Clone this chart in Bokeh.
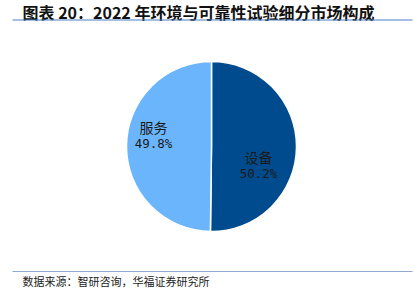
import math
from bokeh.plotting import figure
from bokeh.models import ColumnDataSource, Range1d
from bokeh.core.properties import value
from bokeh.embed import file_html
from bokeh.resources import INLINE

# ---- data ----
categories = ["设备", "服务"]
shares = [50.2, 49.8]
colors = ["#004B8D", "#6BB5FD"]
title_text = "图表 20：2022 年环境与可靠性试验细分市场构成"
source_text = "数据来源：智研咨询，华福证券研究所"

W, H = 414, 295
p = figure(width=W, height=H, output_backend="svg", toolbar_location=None,
           x_range=Range1d(0, W), y_range=Range1d(0, H), min_border=0)
p.axis.visible = False
p.grid.visible = False
p.outline_line_color = None
p.background_fill_color = "white"
p.border_fill_color = "white"

cx, cy, r = 211, 295 - 146, 85

total = sum(shares)
starts, ends = [], []
a = math.pi / 2
for s in shares:
    sweep = 2 * math.pi * s / total
    starts.append(a)
    ends.append(a - sweep)
    a -= sweep

src = ColumnDataSource(dict(start=starts, end=ends, color=colors))
p.wedge(x=cx, y=cy, radius=r, start_angle="start", end_angle="end",
        direction="clock", fill_color="color", line_color="white",
        line_width=1.5, source=src)

# labels (layout offsets relative to centre)
label_offsets = [(47, -19), (-58, 11)]
lx = [cx + dx for dx, dy in label_offsets]
ly = [cy + dy for dx, dy in label_offsets]
pct = [f"{s:.1f}%" for s in shares]
p.text(x=lx, y=[y + 9 for y in ly], text=categories, text_align="center",
       text_baseline="middle", text_font=value("Noto Sans CJK SC"),
       text_font_size="14px", text_color="#1a1a1a")
p.text(x=lx, y=[y - 8 for y in ly], text=pct, text_align="center",
       text_baseline="middle", text_font=value("DejaVu Sans Mono"),
       text_font_size="12.5px", text_color="#1a1a1a")

# title and rules
p.text(x=[22], y=[H - 11], text=[title_text], text_align="left",
       text_baseline="middle", text_font=value("Noto Sans CJK SC"),
       text_font_size="16px", text_font_style="bold", text_color="#111111")
p.segment(x0=[12], y0=[H - 19.5], x1=[412], y1=[H - 19.5],
          line_color="#4F7FC0", line_width=1.2)
p.segment(x0=[12], y0=[H - 271], x1=[412], y1=[H - 271],
          line_color="#8FA9CF", line_width=1.2)
p.text(x=[22], y=[H - 280], text=[source_text], text_align="left",
       text_baseline="middle", text_font=value("Noto Sans CJK SC"),
       text_font_size="11px", text_color="#222222")

open("out.html", "w").write(file_html(p, INLINE))
